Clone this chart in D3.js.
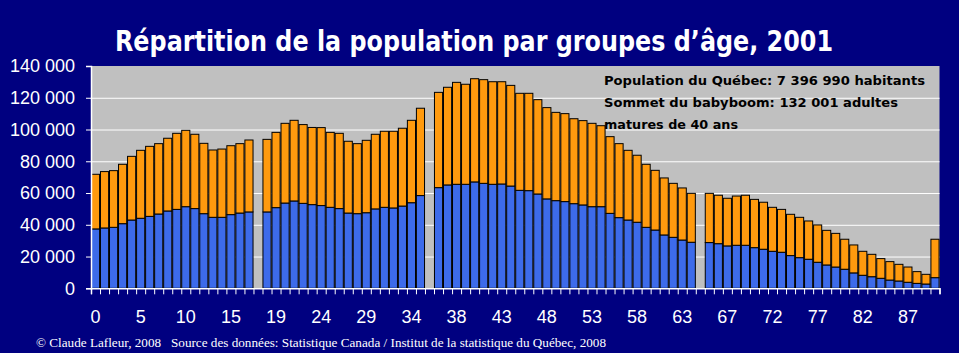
<!DOCTYPE html>
<html><head><meta charset="utf-8">
<script src="https://cdn.jsdelivr.net/npm/d3@7"></script>
<style>html,body{margin:0;padding:0;background:#000080;overflow:hidden}svg{display:block}</style>
</head><body>
<svg id="c" width="959" height="353"></svg>
<script>
// ---------- DATA ----------
const ages = [0,1,2,3,4,5,6,7,8,9,10,11,12,13,14,15,16,17,18,19,20,21,22,23,24,25,26,27,28,29,
  30,31,32,33,34,35,36,37,38,39,40,41,42,43,44,45,46,47,48,49,50,51,52,53,54,55,56,57,58,59,
  60,61,62,63,64,65,66,67,68,69,70,71,72,73,74,75,76,77,78,79,80,81,82,83,84,85,86,87,88,89,90];
// empty category inserted after these ages
const gapsAfter = [17, 35, 64];
// blue series (lower), in thousands
const hommes = [37.4,38.0,38.4,40.7,43.0,44.1,45.3,46.8,48.7,49.7,51.4,50.2,47.0,44.7,44.7,46.4,47.4,48.1,
  48.1,50.8,53.7,55.0,53.5,52.7,52.1,51.0,50.2,47.4,47.0,47.6,50.0,51.0,50.6,51.8,53.9,58.4,
  63.4,65.1,65.5,65.5,67.0,66.1,65.5,65.7,64.4,61.7,61.5,59.4,56.3,55.2,54.6,53.3,52.5,51.4,51.4,47.2,44.5,43.0,41.6,38.4,36.7,33.6,32.1,30.4,29.0,
  28.8,28.1,26.7,27.1,27.1,25.6,24.6,23.3,22.7,20.6,19.3,18.3,16.4,14.7,13.4,12.0,9.7,8.2,7.3,6.3,5.2,4.6,3.8,3.1,2.7,6.7];
// orange series (upper), in thousands
const femmes = [34.4,35.5,35.7,37.4,40.1,42.8,44.1,44.3,45.8,47.9,48.1,46.8,44.3,42.4,43.0,43.4,43.7,45.3,
  45.7,47.4,50.2,50.8,49.6,48.6,49.1,47.2,47.4,45.2,44.1,45.6,47.0,47.9,48.3,49.0,51.9,55.0,
  60.0,61.5,64.2,63.0,65.0,65.3,64.6,64.4,63.4,61.1,61.3,59.4,57.5,55.6,55.4,53.5,53.1,52.5,51.0,48.3,46.6,43.9,42.2,39.7,37.6,35.9,34.0,32.8,30.8,
  31.0,30.5,30.0,31.0,31.5,30.4,29.6,27.7,27.0,26.0,25.4,24.1,23.5,21.8,21.2,18.9,17.6,15.1,14.1,12.4,11.6,10.5,9.6,7.4,6.1,24.2];
const yTicks = [0,20000,40000,60000,80000,100000,120000,140000];
const xTickLabels = ["0","5","10","15","19","24","29","34","38","43","48","53","58","63","67","72","77","82","87"];
const titleText = "Répartition de la population par groupes d\u2019âge, 2001";
const noteLines = ["Population du Québec: 7 396 990 habitants",
                   "Sommet du babyboom: 132 001 adultes",
                   "matures de 40 ans"];
const footerText = "\u00A9 Claude Lafleur, 2008\u00A0\u00A0\u00A0Source des données: Statistique Canada / Institut de la statistique du Québec, 2008";

// ---------- BUILD ----------
const slots = [];
ages.forEach(a => { slots.push(String(a)); if (gapsAfter.includes(a)) slots.push("gap" + a); });
const records = ages.map((a, i) => ({ key: String(a), hommes: hommes[i] * 1000, femmes: femmes[i] * 1000 }));
const series = d3.stack().keys(["hommes", "femmes"])(records);

const W = 959, H = 353;
const L = 91, R = 939.5, T = 66, B = 288.3;
const svg = d3.select("#c");
svg.append("rect").attr("width", W).attr("height", H).attr("fill", "#000080");

const x = d3.scaleBand().domain(slots).range([L, R]).paddingInner(0.1).paddingOuter(0.05);
const xb = d3.scaleLinear().domain([0, slots.length]).range([L, R]);
const y = d3.scaleLinear().domain([0, 140000]).range([B, T]);
const loc = d3.formatLocale({ decimal: ",", thousands: "\u00A0", grouping: [3], currency: ["", ""] });
const fmt = loc.format(",");

svg.append("rect").attr("x", L).attr("y", T).attr("width", R - L).attr("height", B - T).attr("fill", "#C0C0C0");

// gridlines (not at the top edge)
svg.append("g").attr("transform", `translate(${L},0)`)
  .call(d3.axisLeft(y).tickValues(yTicks.slice(1, -1)).tickSize(-(R - L)).tickFormat(""))
  .call(g => g.select(".domain").remove())
  .call(g => g.selectAll("line").attr("stroke", "#FFFFFF").attr("stroke-width", 1));

const colors = { hommes: "#3D6BEA", femmes: "#FF9A0E" };
svg.append("g").selectAll("g").data(series).join("g")
  .attr("fill", d => colors[d.key])
  .selectAll("rect").data(d => d).join("rect")
  .attr("x", d => x(d.data.key))
  .attr("width", x.bandwidth())
  .attr("y", d => y(d[1]))
  .attr("height", d => y(d[0]) - y(d[1]))
  .attr("stroke", "#000").attr("stroke-width", 1);

// y axis
svg.append("g").attr("transform", `translate(${L},0)`)
  .call(d3.axisLeft(y).tickValues(yTicks).tickSize(5).tickPadding(11).tickFormat(fmt))
  .call(g => g.select(".domain").attr("stroke", "#fff").attr("stroke-width", 1.5))
  .call(g => g.selectAll("line").attr("stroke", "#fff"))
  .call(g => g.selectAll("text").attr("fill", "#fff").attr("font-family", "Liberation Sans, Arial, sans-serif").attr("font-size", 18));

// x axis boundary ticks
svg.append("g").attr("transform", `translate(0,${B})`)
  .call(d3.axisBottom(xb).tickValues(d3.range(0, slots.length + 1)).tickSize(6).tickFormat(""))
  .call(g => g.select(".domain").attr("stroke", "#fff").attr("stroke-width", 1.5))
  .call(g => g.selectAll("line").attr("stroke", "#fff"));

// x labels
svg.append("g").attr("transform", `translate(0,${B})`)
  .call(d3.axisBottom(x).tickValues(xTickLabels).tickSize(0).tickPadding(22))
  .call(g => g.select(".domain").remove())
  .call(g => g.selectAll("text").attr("fill", "#fff").attr("font-family", "Liberation Sans, Arial, sans-serif").attr("font-size", 18));

// title
svg.append("text").attr("x", 115).attr("y", 51).text(titleText)
  .attr("fill", "#fff").attr("font-family", "DejaVu Sans, sans-serif").attr("font-weight", "bold")
  .attr("font-size", 28).attr("textLength", 718).attr("lengthAdjust", "spacingAndGlyphs");

// note
const noteW = [321, 294, 134];
const noteY = [85, 107, 129];
noteLines.forEach((s, i) => {
  svg.append("text").attr("x", 604).attr("y", noteY[i]).text(s)
    .attr("fill", "#000").attr("font-family", "DejaVu Sans, sans-serif").attr("font-weight", "bold")
    .attr("font-size", 12.5).attr("textLength", noteW[i]).attr("lengthAdjust", "spacingAndGlyphs");
});

// footer
svg.append("text").attr("x", 36).attr("y", 347).text(footerText)
  .attr("fill", "#fff").attr("font-family", "Liberation Serif, Times New Roman, serif")
  .attr("font-size", 11.5).attr("textLength", 570).attr("lengthAdjust", "spacingAndGlyphs");
</script>
</body></html>
